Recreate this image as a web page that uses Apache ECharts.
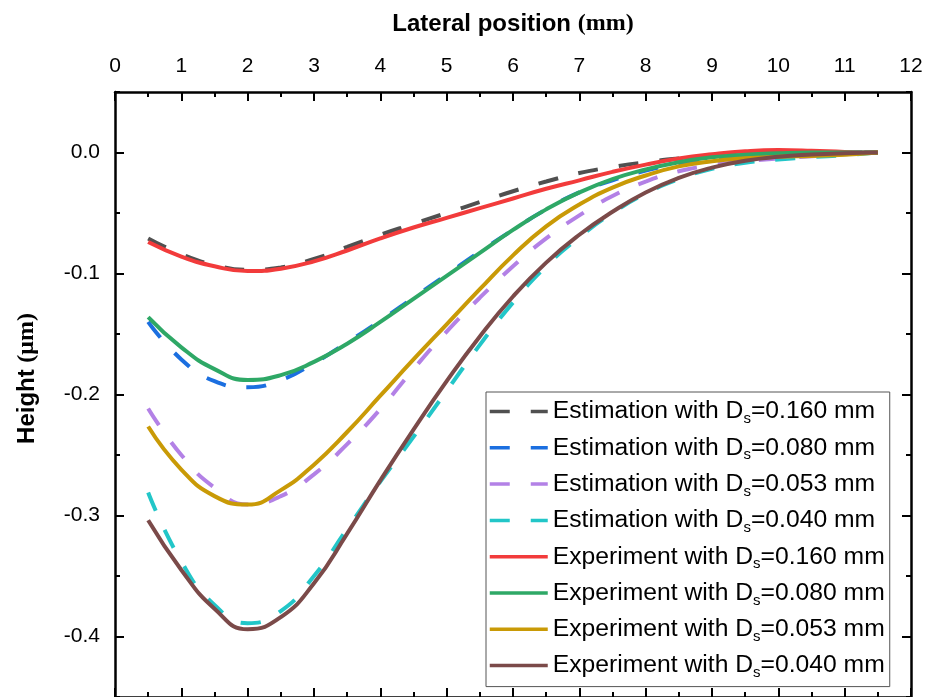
<!DOCTYPE html>
<html lang="en">
<head>
  <meta charset="UTF-8">
  <title>Height profiles</title>
  <style>
    html, body { margin: 0; padding: 0; background: #fff; }
    #chart { width: 936px; height: 697px; }
  </style>
</head>
<body>
  <div id="chart"></div>
  <script src="https://cdn.jsdelivr.net/npm/echarts@6/dist/echarts.min.js"></script>
  <script>
    // lateral position (mm)
    var xs = [0.5, 1, 1.5, 2, 2.5, 3, 3.5, 4, 4.5, 5, 5.5, 6, 6.5, 7, 7.5, 8, 8.5, 9, 9.5, 10, 10.5, 11, 11.5];

    // height (um), estimations
    var est160 = [-0.071, -0.084, -0.093, -0.097, -0.095, -0.088, -0.078, -0.068, -0.059, -0.050, -0.041, -0.032, -0.024, -0.017, -0.012, -0.008, -0.005, -0.003, -0.0018, -0.001, -0.0005, -0.0002, 0];
    var est080 = [-0.140, -0.171, -0.189, -0.194, -0.188, -0.174, -0.157, -0.139, -0.120, -0.101, -0.082, -0.064, -0.047, -0.033, -0.023, -0.015, -0.009, -0.005, -0.0025, -0.001, -0.0003, 0, 0];
    var est053 = [-0.2115, -0.250, -0.277, -0.291, -0.284, -0.266, -0.241, -0.212, -0.179, -0.148, -0.120, -0.094, -0.071, -0.052, -0.036, -0.024, -0.0155, -0.0105, -0.0072, -0.005, -0.003, -0.0015, 0];
    var est040 = [-0.281, -0.338, -0.374, -0.389, -0.379, -0.350, -0.311, -0.272, -0.235, -0.197, -0.159, -0.124, -0.094, -0.070, -0.050, -0.034, -0.022, -0.0135, -0.0085, -0.0058, -0.0038, -0.0022, 0];

    // height (um), experiments
    var exp160 = [-0.074, -0.086, -0.094, -0.098, -0.096, -0.090, -0.081, -0.071, -0.062, -0.054, -0.046, -0.038, -0.030, -0.023, -0.016, -0.010, -0.005, -0.0015, 0.001, 0.002, 0.0015, 0.0005, 0];
    var exp080 = [-0.136, -0.161, -0.179, -0.188, -0.184, -0.173, -0.158, -0.140, -0.121, -0.102, -0.083, -0.064, -0.047, -0.033, -0.022, -0.014, -0.008, -0.004, -0.0018, -0.0006, 0, 0, 0];
    var exp053 = [-0.2265, -0.262, -0.284, -0.291, -0.279, -0.258, -0.231, -0.201, -0.171, -0.142, -0.113, -0.085, -0.061, -0.043, -0.029, -0.019, -0.0115, -0.0072, -0.0048, -0.0036, -0.0028, -0.0018, 0];
    var exp040 = [-0.304, -0.345, -0.377, -0.394, -0.384, -0.356, -0.315, -0.271, -0.229, -0.189, -0.152, -0.119, -0.091, -0.068, -0.049, -0.033, -0.021, -0.0125, -0.0068, -0.0035, -0.0017, -0.0006, 0];

    var dsValues = ['0.160', '0.080', '0.053', '0.040'];
    var estColors = ['#505050', '#1b6fe0', '#b381e6', '#22c6c8'];
    var expColors = ['#f23b3b', '#2ea866', '#c99a06', '#7b4a49'];
    var yMajor = [0, -0.1, -0.2, -0.3, -0.4];
    var yMinor = [0.05, -0.05, -0.15, -0.25, -0.35, -0.45];

    var sans = 'Liberation Sans, Arial, sans-serif';
    var serif = 'Liberation Serif, Times New Roman, serif';

    function pairs(ys) {
      return xs.map(function (x, i) { return [x, ys[i]]; });
    }

    var series = [];
    [est160, est080, est053, est040].forEach(function (ys, i) {
      series.push({
        name: 'Estimation with Ds=' + dsValues[i] + ' mm',
        type: 'line',
        smooth: true,
        symbol: 'none',
        data: pairs(ys),
        lineStyle: { width: 4, color: estColors[i], type: [20, 21] },
        itemStyle: { color: estColors[i] }
      });
    });
    [exp160, exp080, exp053, exp040].forEach(function (ys, i) {
      series.push({
        name: 'Experiment with Ds=' + dsValues[i] + ' mm',
        type: 'line',
        smooth: true,
        symbol: 'none',
        data: pairs(ys),
        lineStyle: { width: 4, color: expColors[i] },
        itemStyle: { color: expColors[i] }
      });
    });

    function line(show) {
      return { show: show, onZero: false, lineStyle: { color: '#000', width: 2.5 } };
    }

    function xAx(pos, interval, len, main) {
      return {
        type: 'value', position: pos, min: 0, max: 12, interval: interval,
        axisLine: line(main),
        axisTick: { show: true, inside: true, length: len, lineStyle: { color: '#000', width: 2 } },
        axisLabel: { show: false },
        splitLine: { show: false }
      };
    }
    function yAx(pos, values, len, main) {
      return {
        type: 'value', position: pos, min: -0.45, max: 0.05,
        axisLine: line(main),
        axisTick: { show: true, inside: true, length: len, customValues: values, lineStyle: { color: '#000', width: 2 } },
        axisLabel: { show: false },
        splitLine: { show: false }
      };
    }

    var topMajor = xAx('top', 1, 9, true);
    topMajor.axisLabel = { show: true, color: '#000', fontSize: 21, fontFamily: sans, margin: 15 };
    topMajor.name = '{a|Lateral position }{b|(mm)}';
    topMajor.nameLocation = 'middle';
    topMajor.nameGap = 56;
    topMajor.nameTextStyle = {
      rich: {
        a: { fontSize: 24, fontWeight: 'bold', fontFamily: sans, color: '#000' },
        b: { fontSize: 24, fontWeight: 'bold', fontFamily: serif, color: '#000' }
      }
    };

    var leftMajor = yAx('left', yMajor, 9, true);
    leftMajor.axisLabel = {
      show: true, color: '#000', fontSize: 21, fontFamily: sans, margin: 15,
      customValues: yMajor,
      formatter: function (v) { return v.toFixed(1); }
    };
    leftMajor.name = '{a|Height }{b|(μm)}';
    leftMajor.nameLocation = 'middle';
    leftMajor.nameGap = 76;
    leftMajor.nameTextStyle = {
      padding: [0, 0, 0, 32],
      rich: {
        a: { fontSize: 24, fontWeight: 'bold', fontFamily: sans, color: '#000' },
        b: { fontSize: 24, fontWeight: 'bold', fontFamily: serif, color: '#000' }
      }
    };

    var option = {
      animation: false,
      backgroundColor: '#fff',
      grid: { left: 115, right: 25, top: 92, bottom: -4 },
      xAxis: [topMajor, xAx('top', 0.5, 5, false), xAx('bottom', 1, 9, true), xAx('bottom', 0.5, 5, false)],
      yAxis: [leftMajor, yAx('left', yMinor, 5, false), yAx('right', yMajor, 9, true), yAx('right', yMinor, 5, false)],
      legend: {
        orient: 'vertical',
        left: 486,
        top: 392,
        padding: [7, 5, 6, 2],
        itemWidth: 58,
        itemHeight: 14,
        itemGap: 8.8,
        itemStyle: { opacity: 0 },
        lineStyle: { width: 3.5 },
        backgroundColor: '#fff',
        borderColor: '#555',
        borderWidth: 1,
        borderRadius: 0,
        data: series.map(function (s) { return s.name; }),
        formatter: function (name) {
          var parts = name.split('Ds=');
          return '{t|' + parts[0] + 'D}{s|s}{t|=' + parts[1] + '}';
        },
        textStyle: {
          rich: {
            t: { fontSize: 24.7, fontFamily: sans, color: '#000', lineHeight: 30 },
            s: { fontSize: 15, fontFamily: sans, color: '#000', lineHeight: 15, verticalAlign: 'bottom' }
          }
        }
      },
      series: series
    };

    var chart = echarts.init(document.getElementById('chart'));
    chart.setOption(option);
  </script>
</body>
</html>
